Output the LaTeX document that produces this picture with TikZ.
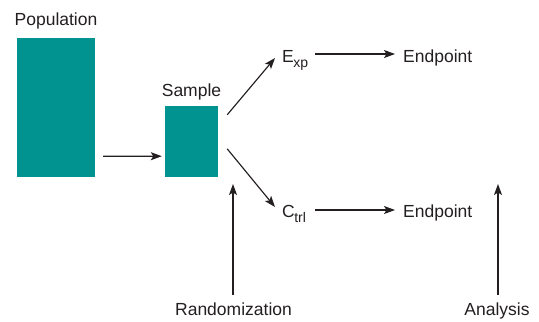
\documentclass[tikz,border=0pt]{standalone}
\usepackage{fontspec}
\setmainfont{Liberation Sans}
\usetikzlibrary{arrows.meta}
\definecolor{tealbox}{RGB}{0,147,143}
\definecolor{inkc}{RGB}{35,31,32}
\newcommand\mysub[1]{\kern-0.5bp\raisebox{-5bp}{\fontsize{14bp}{14bp}\selectfont #1}}
\begin{document}
\begin{tikzpicture}[x=1bp,y=-1bp,
  box/.style={fill=tealbox, draw=none, inner sep=0pt},
  lbl/.style={inner sep=0pt, font=\fontsize{17.5bp}{20bp}\selectfont, text=inkc},
  arr/.style={line width=1.15bp, draw=inkc, -{Stealth[length=11bp,width=8bp,inset=2.5bp]}}]
\useasboundingbox (0,0) rectangle (539,321);
% boxes
\node[box, minimum width=78bp, minimum height=139bp] (pop) at (56,107.5) {};
\node[box, minimum width=53bp, minimum height=71bp] (sample) at (191.5,141.5) {};
% labels
\node[lbl, anchor=base] (poplbl) at (56,25.5) {Population};
\node[lbl, anchor=base] (samplbl) at (191.5,96) {Sample};
\node[lbl, anchor=base west] (exp) at (282,62) {E\mysub{xp}};
\node[lbl, anchor=base west] (ctrl) at (282,217) {C\mysub{trl}};
\node[lbl, anchor=base west] (end1) at (403,62) {Endpoint};
\node[lbl, anchor=base west] (end2) at (403,217) {Endpoint};
\node[lbl, anchor=base] (rand) at (233.5,315) {Randomization};
\node[lbl, anchor=base] (anal) at (497,315) {Analysis};
% free ends
\coordinate (randtip) at (233,184);
\coordinate (analtip) at (498,184);
% connectors
\draw[arr] ([xshift=8bp,yshift=21bp]pop.south east) -- ([xshift=-3bp,yshift=21bp]sample.south west);
\draw[arr] ([xshift=9bp,yshift=-9bp]sample.north east) -- ([xshift=-7bp,yshift=4bp]exp.base west);
\draw[arr] ([xshift=9bp,yshift=-43bp]sample.north east) -- ([xshift=-7bp,yshift=10bp]ctrl.base west);
\draw[arr] ([xshift=315bp-282bp,yshift=8bp]exp.base west) -- ([xshift=-8bp,yshift=8bp]end1.base west);
\draw[arr] ([xshift=315bp-282bp,yshift=7bp]ctrl.base west) -- ([xshift=-8bp,yshift=7bp]end2.base west);
\draw[arr] ([yshift=20bp]rand.base -| randtip) -- (randtip);
\draw[arr] ([yshift=20bp]anal.base -| analtip) -- (analtip);
\end{tikzpicture}
\end{document}
